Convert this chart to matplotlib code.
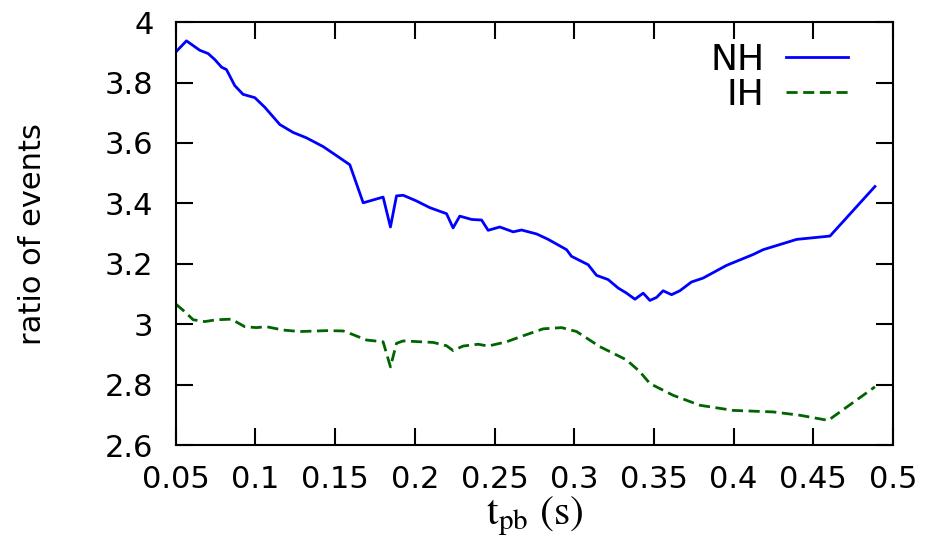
import matplotlib
matplotlib.use("Agg")
import matplotlib.pyplot as plt

# time after bounce (s) and ratio of events
t_nh = [0.050, 0.0567, 0.065, 0.0703, 0.0745, 0.0787, 0.0818, 0.087, 0.0922,
        0.0996, 0.1059, 0.1153, 0.1236, 0.132, 0.1425, 0.1509, 0.1592, 0.1676,
        0.1801, 0.1847, 0.1885, 0.1927, 0.2011, 0.2094, 0.2199, 0.224, 0.2282,
        0.2356, 0.2419, 0.246, 0.2533, 0.2617, 0.267, 0.2764, 0.2837, 0.2952,
        0.2983, 0.3088, 0.314, 0.3213, 0.3276, 0.3329, 0.3381, 0.3433, 0.3475,
        0.3517, 0.3558, 0.3611, 0.3663, 0.3736, 0.3809, 0.3956, 0.4123, 0.4186,
        0.4396, 0.4605, 0.4887]
nh = [3.901, 3.938, 3.907, 3.896, 3.876, 3.851, 3.843, 3.790, 3.761,
      3.750, 3.718, 3.661, 3.635, 3.617, 3.588, 3.558, 3.528, 3.402,
      3.421, 3.322, 3.425, 3.427, 3.408, 3.386, 3.366, 3.319, 3.358,
      3.347, 3.345, 3.311, 3.322, 3.306, 3.312, 3.299, 3.281, 3.247,
      3.225, 3.197, 3.162, 3.148, 3.120, 3.103, 3.083, 3.103, 3.079,
      3.089, 3.111, 3.098, 3.111, 3.140, 3.153, 3.195, 3.231, 3.247,
      3.281, 3.292, 3.456]

t_ih = [0.050, 0.0556, 0.0609, 0.0682, 0.0755, 0.0849, 0.0933, 0.1006, 0.1069,
        0.1173, 0.1278, 0.1446, 0.155, 0.1592, 0.1697, 0.1801, 0.1847, 0.1885,
        0.1927, 0.2115, 0.2199, 0.224, 0.2303, 0.2397, 0.246, 0.2575, 0.268,
        0.2806, 0.2921, 0.3015, 0.3161, 0.3329, 0.3412, 0.3475, 0.3621, 0.3789,
        0.3998, 0.4249, 0.4416, 0.4594, 0.4887]
ih = [3.067, 3.042, 3.015, 3.009, 3.015, 3.017, 2.992, 2.989, 2.992,
      2.981, 2.976, 2.979, 2.978, 2.970, 2.948, 2.942, 2.859, 2.937,
      2.945, 2.940, 2.929, 2.913, 2.928, 2.934, 2.928, 2.942, 2.962,
      2.985, 2.989, 2.976, 2.926, 2.882, 2.843, 2.804, 2.765, 2.732,
      2.715, 2.710, 2.699, 2.682, 2.793]

x_ticks = [0.05, 0.1, 0.15, 0.2, 0.25, 0.3, 0.35, 0.4, 0.45, 0.5]
y_ticks = [2.6, 2.8, 3.0, 3.2, 3.4, 3.6, 3.8, 4.0]
x_labels = ["0.05", "0.1", "0.15", "0.2", "0.25", "0.3", "0.35", "0.4", "0.45", "0.5"]
y_labels = ["2.6", "2.8", "3", "3.2", "3.4", "3.6", "3.8", "4"]

plt.rcParams["font.family"] = ["DejaVu Sans"]
plt.rcParams["mathtext.fontset"] = "stix"

fig = plt.figure(figsize=(9.35, 5.53), dpi=100)
ax = fig.add_axes([0.188, 0.195, 0.767, 0.765])

ax.plot(t_nh, nh, color="#0000ff", lw=2.0, label="NH")
ax.plot(t_ih, ih, color="#006400", lw=2.0, dashes=(4, 2), label="IH")

ax.set_xlim(0.05, 0.5)
ax.set_ylim(2.6, 4.0)
ax.set_xticks(x_ticks)
ax.set_xticklabels(x_labels)
ax.set_yticks(y_ticks)
ax.set_yticklabels(y_labels)
ax.tick_params(direction="in", length=12, width=1.5, labelsize=22,
               top=True, right=True)
ax.tick_params(axis="x", pad=14)
ax.tick_params(axis="y", pad=16)
for sp in ax.spines.values():
    sp.set_linewidth(1.5)

ax.set_ylabel("ratio of events", fontsize=22, labelpad=42)
ax.set_xlabel(r"$\mathrm{t_{pb}\ (s)}$", fontsize=30, labelpad=1)

ax.legend(loc="upper right", markerfirst=False, frameon=False, fontsize=26,
          handlelength=1.7, handletextpad=0.6, labelspacing=0.02,
          borderaxespad=0.0, bbox_to_anchor=(0.957, 0.985))

fig.savefig("out.png", dpi=100)
